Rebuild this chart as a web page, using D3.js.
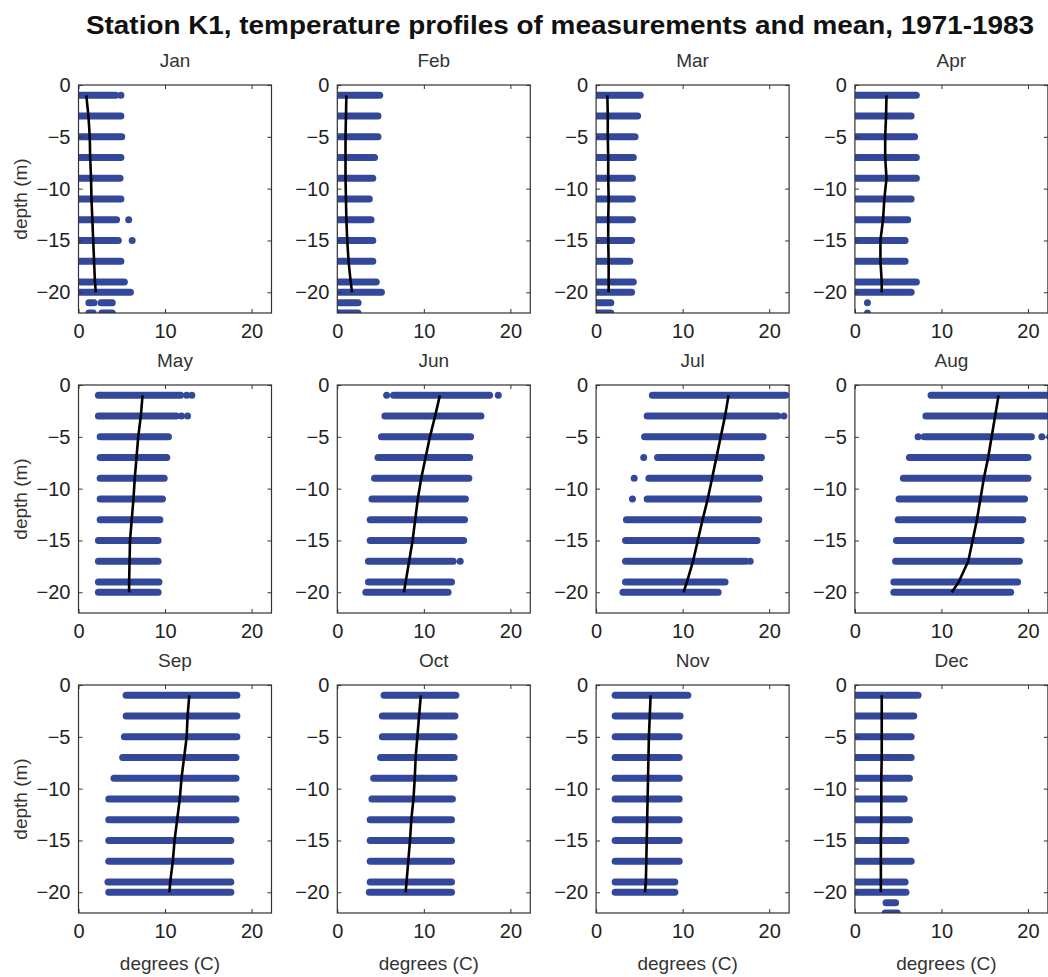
<!DOCTYPE html>
<html><head><meta charset="utf-8">
<script src="https://cdn.jsdelivr.net/npm/d3@7"></script>
<style>
body{margin:0;background:#fff;}
svg{display:block;}
text{font-family:"Liberation Sans",Arial,Helvetica,sans-serif;fill:#222;}
</style></head>
<body><svg id="c" width="1048" height="977"></svg>
<script>
// ---------------- data ----------------
const months = ["Jan","Feb","Mar","Apr","May","Jun","Jul","Aug","Sep","Oct","Nov","Dec"];
const meanDepths = [-1,-3,-5,-7,-9,-11,-13,-15,-17,-19,-20];
const xTicks = [0,10,20];
const yTicks = [0,-5,-10,-15,-20];
const chartTitle = "Station K1, temperature profiles of measurements and mean, 1971-1983";

// bands of measurements: [depth, min temp, max temp]
const janBands = [[-1,-0.5,4.3],[-3,-0.5,4.9],[-5,-0.5,5.0],[-7,-0.5,4.9],[-9,-0.5,4.8],[-11,-0.5,4.9],[-13,-0.5,4.4],[-15,-0.5,4.6],[-17,-0.5,4.9],[-19,-0.5,5.3],[-20,-0.5,6.0],[-21,1.2,1.8],[-21,2.6,3.9],[-22,1.2,1.7],[-22,2.7,3.9]];
const febBands = [[-1,-0.5,4.9],[-3,-0.5,4.7],[-5,-0.5,4.7],[-7,-0.5,4.3],[-9,-0.5,4.1],[-11,-0.5,3.7],[-13,-0.5,3.9],[-15,-0.5,4.1],[-17,-0.5,4.1],[-19,-0.5,4.5],[-20,-0.5,5.1],[-21,-0.5,2.4],[-22,-0.5,2.4]];
const marBands = [[-1,-0.5,5.1],[-3,-0.5,4.8],[-5,-0.5,4.5],[-7,-0.5,4.3],[-9,-0.5,4.2],[-11,-0.5,4.2],[-13,-0.5,4.2],[-15,-0.5,4.1],[-17,-0.5,3.9],[-19,-0.5,4.3],[-20,-0.5,4.1],[-21,-0.5,1.7],[-22,-0.5,1.7]];
const aprBands = [[-1,-0.5,7.1],[-3,-0.5,6.5],[-5,-0.5,6.9],[-7,-0.5,7.1],[-9,-0.5,7.1],[-11,-0.5,6.5],[-13,-0.5,6.1],[-15,-0.5,5.8],[-17,-0.5,5.8],[-19,-0.5,7.1],[-20,-0.5,6.5]];
const mayBands = [[-1,2.3,11.8],[-3,2.3,11.3],[-5,2.5,10.4],[-7,2.5,10.2],[-9,2.5,9.9],[-11,2.5,9.7],[-13,2.5,9.4],[-15,2.3,9.2],[-17,2.3,9.2],[-19,2.3,9.3],[-20,2.3,9.2]];
const junBands = [[-1,6.5,17.6],[-3,5.5,16.6],[-5,5.1,15.4],[-7,4.7,15.3],[-9,4.3,15.2],[-11,4.0,14.8],[-13,3.8,14.7],[-15,3.8,14.6],[-17,3.6,13.4],[-19,3.6,13.2],[-20,3.3,12.8]];
const julBands = [[-1,6.5,21.9],[-3,5.9,21.0],[-5,5.6,19.3],[-7,7.1,19.1],[-9,6.1,18.9],[-11,5.9,18.8],[-13,3.5,18.8],[-15,3.4,18.6],[-17,3.4,17.3],[-19,3.4,14.9],[-20,3.1,14.1]];
const augBands = [[-1,8.8,23.5],[-3,8.2,22.0],[-5,8.0,20.4],[-7,6.3,20.0],[-9,5.6,20.0],[-11,5.1,19.6],[-13,5.0,19.4],[-15,4.8,19.2],[-17,4.7,19.0],[-19,4.5,18.8],[-20,4.5,18.0]];
const sepBands = [[-1,5.5,18.3],[-3,5.5,18.3],[-5,5.3,18.3],[-7,5.1,18.2],[-9,4.1,18.2],[-11,3.5,18.2],[-13,3.5,18.2],[-15,3.5,17.6],[-17,3.5,17.6],[-19,3.4,17.6],[-20,3.5,17.6]];
const octBands = [[-1,5.4,13.7],[-3,5.2,13.6],[-5,5.2,13.5],[-7,5.0,13.5],[-9,4.2,13.5],[-11,4.0,13.3],[-13,3.8,13.2],[-15,3.8,13.2],[-17,3.8,13.2],[-19,3.8,13.2],[-20,3.7,13.2]];
const novBands = [[-1,2.2,10.6],[-3,2.2,9.7],[-5,2.2,9.6],[-7,2.2,9.6],[-9,2.2,9.6],[-11,2.2,9.6],[-13,2.2,9.6],[-15,2.2,9.6],[-17,2.2,9.6],[-19,2.2,9.1],[-20,2.2,9.1]];
const decBands = [[-1,-0.5,7.3],[-3,-0.5,6.8],[-5,-0.5,6.5],[-7,-0.5,6.5],[-9,-0.5,6.3],[-11,-0.5,5.7],[-13,-0.5,6.3],[-15,-0.5,5.9],[-17,-0.5,6.5],[-19,-0.5,5.8],[-20,-0.5,5.9],[-21,3.6,4.7],[-22,3.5,4.9]];

// isolated measurements: [depth, temp]
const janDots = [[-1,4.9],[-13,5.8],[-15,6.2]];
const febDots = [];
const marDots = [];
const aprDots = [[-21,1.45],[-22,1.45]];
const mayDots = [[-1,12.5],[-1,13.1],[-3,11.9],[-3,12.6]];
const junDots = [[-1,5.7],[-1,18.6],[-17,14.2]];
const julDots = [[-3,21.7],[-7,5.5],[-9,4.4],[-11,4.2],[-17,17.8]];
const augDots = [[-3,22.6],[-5,7.3],[-5,21.6],[-5,22.5]];
const sepDots = [];
const octDots = [];
const novDots = [];
const decDots = [];

// mean temperature at meanDepths
const janMean = [0.9,1.15,1.3,1.35,1.45,1.5,1.6,1.7,1.8,1.9,2.0];
const febMean = [1.05,1.0,0.95,0.95,0.95,1.0,1.05,1.15,1.3,1.55,1.7];
const marMean = [1.3,1.35,1.35,1.4,1.4,1.45,1.4,1.4,1.45,1.45,1.45];
const aprMean = [3.65,3.6,3.5,3.5,3.65,3.4,3.25,2.95,2.95,3.1,3.1];
const mayMean = [7.4,7.2,6.9,6.7,6.5,6.35,6.15,5.95,5.9,5.85,5.85];
const junMean = [11.85,11.3,10.7,10.2,9.7,9.3,9.0,8.7,8.3,7.9,7.7];
const julMean = [15.3,14.9,14.4,13.9,13.4,12.9,12.3,11.75,11.2,10.5,10.1];
const augMean = [16.6,16.2,15.8,15.4,14.9,14.5,14.1,13.6,13.1,12.0,11.2];
const sepMean = [12.8,12.6,12.5,12.2,11.9,11.7,11.4,11.1,10.9,10.6,10.5];
const octMean = [9.65,9.45,9.25,9.05,8.95,8.8,8.55,8.4,8.2,8.0,7.9];
const novMean = [6.3,6.2,6.1,6.05,6.0,5.95,5.9,5.85,5.8,5.75,5.65];
const decMean = [3.1,3.1,3.1,3.1,3.05,3.05,3.05,3.0,3.0,3.0,3.0];

const allBands = [janBands,febBands,marBands,aprBands,mayBands,junBands,julBands,augBands,sepBands,octBands,novBands,decBands];
const allDots = [janDots,febDots,marDots,aprDots,mayDots,junDots,julDots,augDots,sepDots,octDots,novDots,decDots];
const allMeans = [janMean,febMean,marMean,aprMean,mayMean,junMean,julMean,augMean,sepMean,octMean,novMean,decMean];

// ---------------- layout ----------------
const svg = d3.select("#c");
const pw = 193, ph = 228;
const colLeft = i => 78.5 + 258.8 * i;
const rowTop = [85, 385, 685];
const dotColor = "#33489a";
const bandW = 7;

const x = d3.scaleLinear().domain([0, 22.3]).range([0, pw]);
const y = d3.scaleLinear().domain([-22, 0]).range([ph, 0]);

svg.append("text").attr("x", 560).attr("y", 34).attr("text-anchor", "middle")
  .attr("textLength", 948).attr("lengthAdjust", "spacingAndGlyphs")
  .style("font-weight", "bold").style("font-size", "25px").style("fill", "#111").text(chartTitle);

const defs = svg.append("defs");
defs.append("clipPath").attr("id", "clip").append("rect")
  .attr("x", 0).attr("y", 0).attr("width", pw).attr("height", ph);

months.forEach((m, i) => {
  const r = Math.floor(i / 4), c = i % 4;
  const g = svg.append("g").attr("transform", `translate(${colLeft(c)},${rowTop[r]})`);

  g.append("text").attr("x", pw / 2).attr("y", -18).attr("text-anchor", "middle")
    .style("font-size", "19px").style("fill", "#333").text(m);

  const plot = g.append("g").attr("clip-path", "url(#clip)");
  plot.selectAll("line.band").data(allBands[i]).enter().append("line")
    .attr("class", "band")
    .attr("x1", d => x(d[1])).attr("x2", d => x(d[2]))
    .attr("y1", d => y(d[0])).attr("y2", d => y(d[0]))
    .attr("stroke", dotColor).attr("stroke-width", bandW).attr("stroke-linecap", "round");
  plot.selectAll("circle.dot").data(allDots[i]).enter().append("circle")
    .attr("class", "dot")
    .attr("cx", d => x(d[1])).attr("cy", d => y(d[0])).attr("r", bandW / 2)
    .attr("fill", dotColor);
  const line = d3.line().x(d => x(d[1])).y(d => y(d[0]));
  plot.append("path").datum(meanDepths.map((d, k) => [d, allMeans[i][k]]))
    .attr("d", line).attr("fill", "none").attr("stroke", "#000").attr("stroke-width", 2.6);

  // axes (ticks inside, MATLAB style)
  const ax = g.append("g").attr("transform", `translate(0,${ph})`)
    .call(d3.axisBottom(x).tickValues(xTicks).tickSize(-4).tickSizeOuter(0).tickPadding(11));
  const axTop = g.append("g")
    .call(d3.axisTop(x).tickValues(xTicks).tickSize(-4).tickSizeOuter(0).tickFormat(""));
  const ay = g.append("g")
    .call(d3.axisLeft(y).tickValues(yTicks).tickSize(-4).tickSizeOuter(0).tickPadding(8));
  const ayR = g.append("g").attr("transform", `translate(${pw},0)`)
    .call(d3.axisRight(y).tickValues(yTicks).tickSize(-4).tickSizeOuter(0).tickFormat(""));
  [ax, axTop, ay, ayR].forEach(a => {
    a.select(".domain").remove();
    a.selectAll(".tick line").attr("stroke", "#333");
    a.selectAll("text").style("font-size", "20px").style("font-family", '"Liberation Sans",Arial,sans-serif').attr("fill", "#333");
  });

  g.append("rect").attr("width", pw).attr("height", ph)
    .attr("fill", "none").attr("stroke", "#333").attr("stroke-width", 1.2);

  if (c === 0) {
    g.append("text").attr("transform", `translate(${-52},${ph / 2}) rotate(-90)`)
      .attr("text-anchor", "middle").style("font-size", "19px").style("fill", "#333").text("depth (m)");
  }
  if (r === 2) {
    g.append("text").attr("x", pw / 2 - 5).attr("y", ph + 57).attr("text-anchor", "middle")
      .style("font-size", "19px").style("fill", "#333").text("degrees (C)");
  }
});
</script></body></html>
